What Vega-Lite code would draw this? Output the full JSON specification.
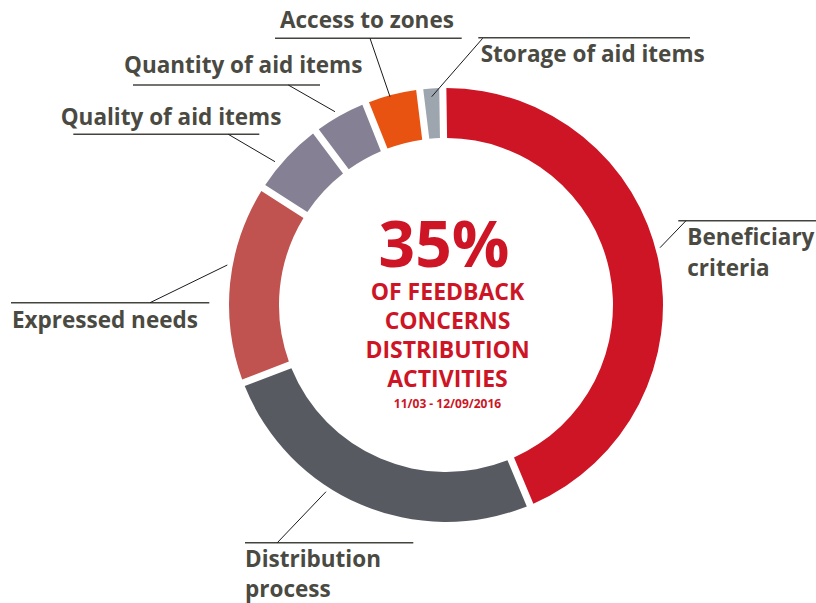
{
  "$schema": "https://vega.github.io/schema/vega-lite/v6.json",
  "autosize": {"type": "none"},
  "width": 740,
  "height": 596,
  "padding": {"left": 76, "top": 7, "right": 0, "bottom": 0},
  "background": "white",
  "config": {"view": {"stroke": null}},
  "datasets": {
    "slices": [
      {"category": "Beneficiary criteria", "value": 43.9, "order": 1},
      {"category": "Distribution process", "value": 25.5, "order": 2},
      {"category": "Expressed needs", "value": 14.9, "order": 3},
      {"category": "Quality of aid items", "value": 5.7, "order": 4},
      {"category": "Quantity of aid items", "value": 4.2, "order": 5},
      {"category": "Access to zones", "value": 4.1, "order": 6},
      {"category": "Storage of aid items", "value": 1.7, "order": 7}
    ],
    "underlines": [
      {"label": "Access to zones", "x": -171, "x2": 15.7, "y": 266.7},
      {"label": "Storage of aid items", "x": 32.3, "x2": 244, "y": 267.3},
      {"label": "Quantity of aid items", "x": -313, "x2": -126, "y": 220},
      {"label": "Quality of aid items", "x": -372.7, "x2": -186.7, "y": 170.7},
      {"label": "Expressed needs", "x": -435, "x2": -236.7, "y": 2.3},
      {"label": "Beneficiary criteria", "x": 232.3, "x2": 370, "y": 84.3},
      {"label": "Distribution process", "x": -201, "x2": -32.7, "y": -237.7}
    ],
    "leaders": [
      {"label": "Access to zones", "x": -76, "y": 266.7, "x2": -56, "y2": 208.3},
      {"label": "Storage of aid items", "x": 36.7, "y": 266.7, "x2": -14.3, "y2": 208.3},
      {"label": "Quantity of aid items", "x": -157.7, "y": 220, "x2": -111, "y2": 193.3},
      {"label": "Quality of aid items", "x": -217.7, "y": 170.7, "x2": -171, "y2": 143.3},
      {"label": "Expressed needs", "x": -296, "y": 2.3, "x2": -218.7, "y2": 40},
      {"label": "Beneficiary criteria", "x": 240, "y": 84.3, "x2": 214, "y2": 57.3},
      {"label": "Distribution process", "x": -168.7, "y": -237.7, "x2": -120, "y2": -186.7}
    ],
    "labels": [
      {"text": "Access to zones", "x": -166, "y": 277},
      {"text": "Storage of aid items", "x": 34.7, "y": 243.3},
      {"text": "Quantity of aid items", "x": -322, "y": 231.7},
      {"text": "Quality of aid items", "x": -385.3, "y": 180},
      {"text": "Expressed needs", "x": -434, "y": -22.7},
      {"text": "Beneficiary", "x": 241.3, "y": 60},
      {"text": "criteria", "x": 241.3, "y": 29},
      {"text": "Distribution", "x": -201, "y": -261.7},
      {"text": "process", "x": -201, "y": -291.5}
    ],
    "center": [
      {"text": "35%", "role": "big", "x": -2, "y": 38.3},
      {"text": "OF FEEDBACK", "role": "mid", "x": 1.5, "y": 5},
      {"text": "CONCERNS", "role": "mid", "x": 1.5, "y": -24.3},
      {"text": "DISTRIBUTION", "role": "mid", "x": 1.5, "y": -53.3},
      {"text": "ACTIVITIES", "role": "mid", "x": 1.5, "y": -81.7},
      {"text": "11/03 - 12/09/2016", "role": "small", "x": 1.5, "y": -103.3}
    ]
  },
  "layer": [
    {
      "data": {"name": "slices"},
      "mark": {"type": "arc", "innerRadius": 167, "outerRadius": 217, "padAngle": 0.026},
      "encoding": {
        "theta": {"field": "value", "type": "quantitative", "stack": true, "scale": {"range": [-0.0148, 6.2684]}},
        "order": {"field": "order", "type": "quantitative"},
        "color": {
          "field": "category",
          "type": "nominal",
          "legend": null,
          "scale": {
            "domain": ["Beneficiary criteria", "Distribution process", "Expressed needs", "Quality of aid items", "Quantity of aid items", "Access to zones", "Storage of aid items"],
            "range": ["#cd1525", "#575a60", "#c0524f", "#868095", "#868095", "#e85311", "#9da6af"]
          }
        }
      }
    },
    {
      "data": {"name": "underlines"},
      "mark": {"type": "rule", "color": "#44443f", "strokeWidth": 1.6},
      "encoding": {
        "x": {"field": "x", "type": "quantitative", "axis": null, "scale": {"domain": [-370, 370], "nice": false, "zero": false}},
        "x2": {"field": "x2"},
        "y": {"field": "y", "type": "quantitative", "axis": null, "scale": {"domain": [-298, 298], "nice": false, "zero": false}}
      }
    },
    {
      "data": {"name": "leaders"},
      "mark": {"type": "rule", "color": "#1a1a1a", "strokeWidth": 1},
      "encoding": {
        "x": {"field": "x", "type": "quantitative", "axis": null},
        "x2": {"field": "x2"},
        "y": {"field": "y", "type": "quantitative", "axis": null},
        "y2": {"field": "y2"}
      }
    },
    {
      "data": {"name": "labels"},
      "mark": {"type": "text", "align": "left", "baseline": "alphabetic", "font": "Open Sans", "fontWeight": "bold", "fontSize": 22.5, "color": "#4a4a42"},
      "encoding": {
        "x": {"field": "x", "type": "quantitative", "axis": null},
        "y": {"field": "y", "type": "quantitative", "axis": null},
        "text": {"field": "text"}
      }
    },
    {
      "data": {"name": "center"},
      "transform": [{"filter": "datum.role === 'big'"}],
      "mark": {"type": "text", "align": "center", "baseline": "alphabetic", "font": "Open Sans", "fontWeight": "bold", "fontSize": 64, "color": "#cd1525"},
      "encoding": {
        "x": {"field": "x", "type": "quantitative", "axis": null},
        "y": {"field": "y", "type": "quantitative", "axis": null},
        "text": {"field": "text"}
      }
    },
    {
      "data": {"name": "center"},
      "transform": [{"filter": "datum.role === 'mid'"}],
      "mark": {"type": "text", "align": "center", "baseline": "alphabetic", "font": "Open Sans", "fontWeight": "bold", "fontSize": 23, "letterSpacing": 1.5, "color": "#cd1525"},
      "encoding": {
        "x": {"field": "x", "type": "quantitative", "axis": null},
        "y": {"field": "y", "type": "quantitative", "axis": null},
        "text": {"field": "text"}
      }
    },
    {
      "data": {"name": "center"},
      "transform": [{"filter": "datum.role === 'small'"}],
      "mark": {"type": "text", "align": "center", "baseline": "alphabetic", "font": "Open Sans", "fontWeight": "bold", "fontSize": 12, "color": "#cd1525"},
      "encoding": {
        "x": {"field": "x", "type": "quantitative", "axis": null},
        "y": {"field": "y", "type": "quantitative", "axis": null},
        "text": {"field": "text"}
      }
    }
  ]
}
